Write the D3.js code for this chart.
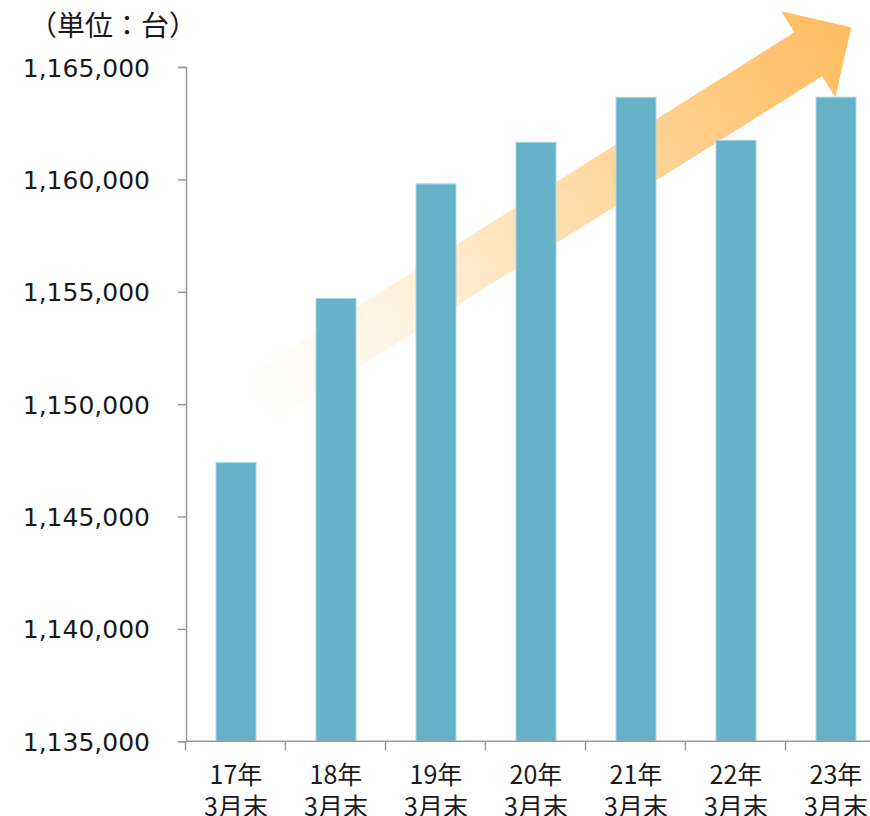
<!DOCTYPE html>
<html><head><meta charset="utf-8">
<script src="https://cdn.jsdelivr.net/npm/d3@7"></script>
<style>
html,body{margin:0;padding:0;background:#fff;}
svg{display:block;}
text{font-family:"DejaVu Sans","Noto Sans CJK JP",sans-serif;fill:#1a1a1a;}
</style></head>
<body>
<svg id="chart" width="870" height="816"></svg>
<script>
const categories = ["17年","18年","19年","20年","21年","22年","23年"];
const subLabels = ["3月末","3月末","3月末","3月末","3月末","3月末","3月末"];
const values = [1147400, 1154700, 1159800, 1161650, 1163650, 1161740, 1163660];
const yTicks = [1135000,1140000,1145000,1150000,1155000,1160000,1165000];
const unitLabel = "（単位：台）";

const svg = d3.select("#chart");
const x0 = 186, yTop = 67, yBot = 741.3;
const x = d3.scaleBand().domain(categories).range([x0, x0 + 100*categories.length]).paddingInner(0.6).paddingOuter(0.3);
const y = d3.scaleLinear().domain([1135000,1165000]).range([yBot, yTop]);

// Arrow (behind bars)
const defs = svg.append("defs");
const S = [245, 408], B = [808, 54], T = [851, 27];
const L = Math.hypot(B[0]-S[0], B[1]-S[1]);
const H = Math.hypot(T[0]-B[0], T[1]-B[1]);
const ang = Math.atan2(T[1]-B[1], T[0]-B[0]) * 180/Math.PI;
const grad = defs.append("linearGradient").attr("id","ag")
  .attr("gradientUnits","userSpaceOnUse").attr("x1",0).attr("y1",0).attr("x2",L+H).attr("y2",0);
grad.append("stop").attr("offset",0).attr("stop-color","#fff7ee").attr("stop-opacity",0);
grad.append("stop").attr("offset",0.15).attr("stop-color","#fff3e4").attr("stop-opacity",0.6);
grad.append("stop").attr("offset",0.45).attr("stop-color","#ffe3b8").attr("stop-opacity",1);
grad.append("stop").attr("offset",1).attr("stop-color","#ffbb5e").attr("stop-opacity",1);
const sw = 26, hw = 51;
const pts = [[0,-sw],[L,-sw],[L,-hw],[L+H,0],[L,hw],[L,sw],[0,sw]];
svg.append("g").attr("transform",`translate(${S[0]},${S[1]}) rotate(${ang})`)
  .append("path").attr("d", d3.line()(pts) + "Z").attr("fill","url(#ag)");

// Bars
svg.append("g").selectAll("rect").data(values).join("rect")
  .attr("x",(d,i)=>x(categories[i])).attr("width",x.bandwidth())
  .attr("y",d=>y(d)).attr("height",d=>yBot-y(d))
  .attr("fill","#66b2c9").attr("stroke","#a9d6e3").attr("stroke-width",1);

// Y axis
const yAxis = svg.append("g").attr("transform",`translate(${x0},0)`)
  .call(d3.axisLeft(y).tickValues(yTicks).tickSize(8).tickPadding(28).tickFormat(d3.format(",")));
yAxis.select(".domain").attr("stroke","#9a9a9a").attr("stroke-width",1.5);
yAxis.selectAll(".tick line").attr("stroke","#9a9a9a").attr("stroke-width",1.5);
yAxis.selectAll(".tick text").attr("font-size",25).attr("dy","0.36em")
  .style("font-family","DejaVu Sans, sans-serif").attr("fill","#1a1a1a");

// X axis
const xLine = svg.append("g");
xLine.append("line").attr("x1",x0).attr("x2",870).attr("y1",yBot).attr("y2",yBot)
  .attr("stroke","#9a9a9a").attr("stroke-width",1.5);
const xStep = x.step();
xLine.selectAll("line.tk").data(categories).join("line").attr("class","tk")
  .attr("x1",(d,i)=>x0 + i*xStep - 0.5).attr("x2",(d,i)=>x0 + i*xStep - 0.5)
  .attr("y1",yBot).attr("y2",yBot+9).attr("stroke","#9a9a9a").attr("stroke-width",1.5);
const lab = svg.append("g").selectAll("text").data(categories).join("text")
  .attr("x",d=>x(d)+x.bandwidth()/2).attr("text-anchor","middle")
  .attr("font-size",25).style("font-family","'Noto Sans CJK JP', sans-serif");
lab.append("tspan").attr("x",d=>x(d)+x.bandwidth()/2).attr("y",784).text(d=>d);
lab.append("tspan").attr("x",d=>x(d)+x.bandwidth()/2).attr("y",816).text((d,i)=>subLabels[i]);

// Unit label
svg.append("text").attr("x",29).attr("y",36).attr("font-size",28)
  .style("font-family","'Noto Sans CJK JP', sans-serif").text(unitLabel);
</script>
</body></html>
